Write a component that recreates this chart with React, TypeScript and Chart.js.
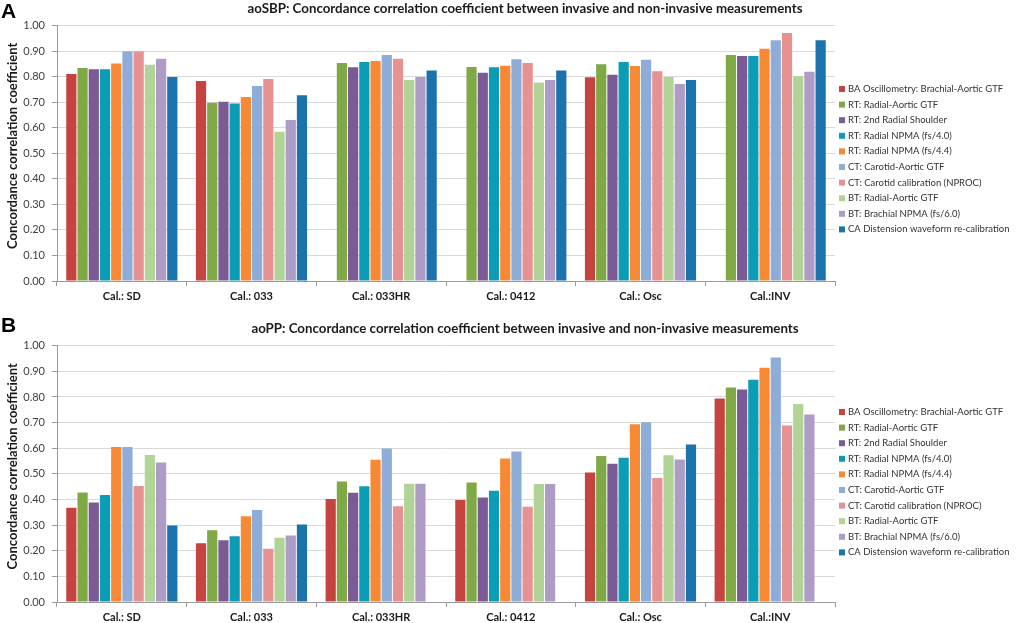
import React, { useEffect, useRef } from "react";
import { Chart, registerables } from "chart.js";

Chart.register(...registerables);

const categories = ["Cal.: SD", "Cal.: 033", "Cal.: 033HR", "Cal.: 0412", "Cal.: Osc", "Cal.:INV"];

const seriesNames = [
  "BA Oscillometry: Brachial-Aortic GTF",
  "RT: Radial-Aortic GTF",
  "RT: 2nd Radial Shoulder",
  "RT: Radial NPMA (fs/4.0)",
  "RT: Radial NPMA (fs/4.4)",
  "CT: Carotid-Aortic GTF",
  "CT: Carotid calibration (NPROC)",
  "BT: Radial-Aortic GTF",
  "BT: Brachial NPMA (fs/6.0)",
  "CA Distension waveform re-calibration",
];

const seriesColors = [
  "#C5443F",
  "#7EA944",
  "#7C5A96",
  "#0A9DB5",
  "#F78935",
  "#8DADD8",
  "#E69292",
  "#B2D396",
  "#AE9BC6",
  "#1C72AA",
];

const yTickValues = [0, 0.1, 0.2, 0.3, 0.4, 0.5, 0.6, 0.7, 0.8, 0.9, 1.0];
const yAxisTitle = "Concordance correlation coefficient";

// Panel A: aoSBP
const titleA = "aoSBP: Concordance correlation coefficient between invasive and non-invasive measurements";
const sbpBA = [0.811, 0.783, null, null, 0.798, null];
const sbpRTGTF = [0.834, 0.698, 0.854, 0.838, 0.849, 0.885];
const sbpRTShoulder = [0.829, 0.702, 0.837, 0.816, 0.808, 0.881];
const sbpRTNPMA40 = [0.829, 0.695, 0.858, 0.837, 0.858, 0.881];
const sbpRTNPMA44 = [0.852, 0.721, 0.862, 0.843, 0.842, 0.91];
const sbpCTGTF = [0.9, 0.764, 0.885, 0.869, 0.867, 0.943];
const sbpCTNPROC = [0.9, 0.791, 0.871, 0.854, 0.822, 0.971];
const sbpBTGTF = [0.847, 0.585, 0.787, 0.778, 0.799, 0.802];
const sbpBTNPMA = [0.871, 0.631, 0.799, 0.787, 0.772, 0.82];
const sbpCA = [0.799, 0.728, 0.825, 0.825, 0.787, 0.943];

// Panel B: aoPP
const titleB = "aoPP: Concordance correlation coefficient between invasive and non-invasive measurements";
const ppBA = [0.368, 0.229, 0.402, 0.398, 0.505, 0.794];
const ppRTGTF = [0.427, 0.28, 0.47, 0.466, 0.57, 0.837];
const ppRTShoulder = [0.388, 0.241, 0.426, 0.408, 0.539, 0.829];
const ppRTNPMA40 = [0.417, 0.257, 0.452, 0.434, 0.563, 0.867];
const ppRTNPMA44 = [0.605, 0.335, 0.555, 0.56, 0.694, 0.914];
const ppCTGTF = [0.605, 0.359, 0.599, 0.587, 0.701, 0.954];
const ppCTNPROC = [0.453, 0.208, 0.374, 0.372, 0.484, 0.689];
const ppBTGTF = [0.574, 0.251, 0.461, 0.46, 0.573, 0.773];
const ppBTNPMA = [0.544, 0.259, 0.461, 0.46, 0.556, 0.732];
const ppCA = [0.298, 0.302, null, null, 0.615, null];

const seriesA = [sbpBA, sbpRTGTF, sbpRTShoulder, sbpRTNPMA40, sbpRTNPMA44, sbpCTGTF, sbpCTNPROC, sbpBTGTF, sbpBTNPMA, sbpCA];
const seriesB = [ppBA, ppRTGTF, ppRTShoulder, ppRTNPMA40, ppRTNPMA44, ppCTGTF, ppCTNPROC, ppBTGTF, ppBTNPMA, ppCA];

type PanelCfg = {
  letter: string;
  title: string;
  series: (number | null)[][];
  height: number;
  top: number;
  padTop: number;
  padBottom: number;
  xAxisHeight: number;
  letterTop: number;
  titleY: number;
  legendTop: number;
};

const FONT = "Lato, 'Open Sans', sans-serif";

function overlayPlugin(cfg: PanelCfg) {
  return {
    id: "overlay" + cfg.letter,
    afterDraw(chart: any) {
      const ctx = chart.ctx as CanvasRenderingContext2D;
      const area = chart.chartArea;
      ctx.save();
      // panel letter
      ctx.fillStyle = "#000";
      ctx.font = "bold 21px 'Liberation Sans', Arial, sans-serif";
      ctx.textAlign = "left";
      ctx.textBaseline = "top";
      ctx.fillText(cfg.letter, 1, cfg.letterTop);
      // title
      ctx.font = `bold 13.3px ${FONT}`;
      ctx.fillStyle = "#1a1a1a";
      ctx.textAlign = "center";
      ctx.textBaseline = "middle";
      ctx.fillText(cfg.title, 525, cfg.titleY);
      // y axis title
      ctx.save();
      ctx.translate(13, (area.top + area.bottom) / 2 - 7.5);
      ctx.rotate(-Math.PI / 2);
      ctx.font = `bold 13px ${FONT}`;
      ctx.fillText(yAxisTitle, 0, 0);
      ctx.restore();
      // legend
      chart.data.datasets.forEach((ds: any, i: number) => {
        const y = cfg.legendTop + i * 15.6;
        ctx.fillStyle = ds.backgroundColor;
        ctx.fillRect(area.right + 4, y - 3, 6, 6);
        ctx.fillStyle = "#333";
        ctx.font = `9.5px ${FONT}`;
        ctx.textAlign = "left";
        ctx.textBaseline = "middle";
        ctx.fillText(ds.label, area.right + 13, y);
      });
      ctx.restore();
    },
  };
}

function Panel({ cfg }: { cfg: PanelCfg }) {
  const ref = useRef<HTMLCanvasElement | null>(null);
  useEffect(() => {
    if (!ref.current) return;
    const chart = new Chart(ref.current, {
      type: "bar",
      data: {
        labels: categories,
        datasets: cfg.series.map((vals, i) => ({
          label: seriesNames[i],
          data: vals,
          backgroundColor: seriesColors[i],
          borderWidth: 0,
          categoryPercentage: 0.865,
          barPercentage: 0.91,
        })),
      },
      options: {
        animation: false,
        responsive: false,
        devicePixelRatio: 1,
        layout: { padding: { top: cfg.padTop, right: 182, bottom: cfg.padBottom, left: 0 } },
        plugins: {
          legend: { display: false },
          title: { display: false },
          tooltip: { enabled: false },
        },
        scales: {
          x: {
            afterFit: (s: any) => {
              s.height = cfg.xAxisHeight;
            },
            grid: {
              drawOnChartArea: false,
              drawTicks: true,
              tickLength: 5,
              color: "#9a9a9a",
              offset: true,
            },
            border: { color: "#9a9a9a", width: 1 },
            ticks: {
              color: "#1a1a1a",
              font: { family: FONT, size: 11, weight: "bold" },
              padding: 4,
              maxRotation: 0,
            },
          },
          y: {
            min: 0,
            max: 1,
            afterFit: (s: any) => {
              s.width = 57;
            },
            afterBuildTicks: (s: any) => {
              s.ticks = yTickValues.map((v) => ({ value: v }));
            },
            grid: {
              color: "#d9d9d9",
              tickColor: "#9a9a9a",
              tickLength: 5,
              drawTicks: true,
            },
            border: { color: "#9a9a9a", width: 1 },
            ticks: {
              color: "#404040",
              font: { family: FONT, size: 11 },
              padding: 7,
              callback: (v: any) => Number(v).toFixed(2),
            },
          },
        },
      },
      plugins: [overlayPlugin(cfg)],
    } as any);
    return () => chart.destroy();
  }, [cfg]);
  return (
    <canvas
      ref={ref}
      width={1017}
      height={cfg.height}
      style={{ position: "absolute", left: 0, top: cfg.top, width: 1017, height: cfg.height }}
    />
  );
}

const panelA: PanelCfg = {
  letter: "A",
  title: titleA,
  series: seriesA,
  height: 310,
  top: 0,
  padTop: 25.7,
  padBottom: 4,
  xAxisHeight: 25,
  letterTop: 2,
  titleY: 8.5,
  legendTop: 89,
};

const panelB: PanelCfg = {
  letter: "B",
  title: titleB,
  series: seriesB,
  height: 313,
  top: 310,
  padTop: 35.7,
  padBottom: 0,
  xAxisHeight: 21,
  letterTop: 6,
  titleY: 19,
  legendTop: 102,
};

export default function App() {
  return (
    <div style={{ position: "absolute", left: 0, top: 0, width: 1017, height: 623, background: "#fff" }}>
      <Panel cfg={panelA} />
      <Panel cfg={panelB} />
    </div>
  );
}
